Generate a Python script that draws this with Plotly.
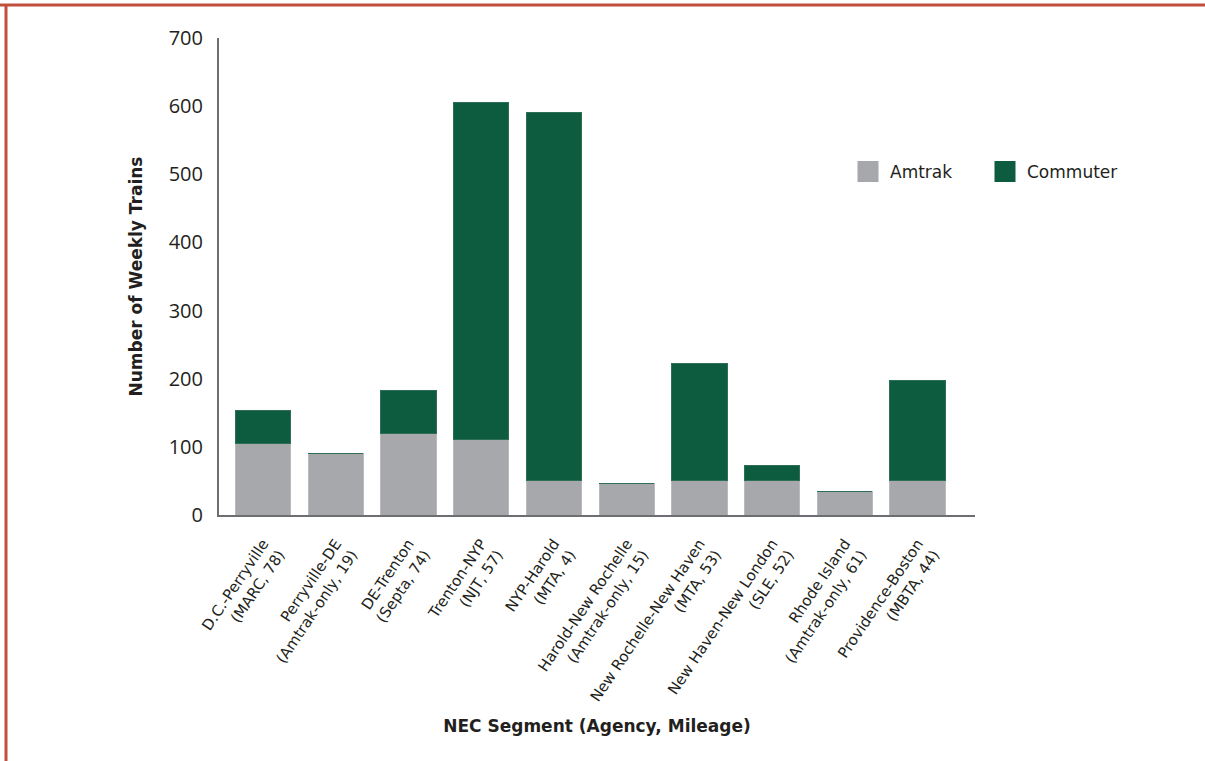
import plotly.graph_objects as go

segments = [
    "D.C.-Perryville<br>(MARC, 78)",
    "Perryville-DE<br>(Amtrak-only, 19)",
    "DE-Trenton<br>(Septa, 74)",
    "Trenton-NYP<br>(NJT, 57)",
    "NYP-Harold<br>(MTA, 4)",
    "Harold-New Rochelle<br>(Amtrak-only, 15)",
    "New Rochelle-New Haven<br>(MTA, 53)",
    "New Haven-New London<br>(SLE, 52)",
    "Rhode Island<br>(Amtrak-only, 61)",
    "Providence-Boston<br>(MBTA, 44)",
]
amtrak = [105, 90, 119, 111, 50, 46, 51, 51, 34, 51]
commuter = [48, 0, 64, 494, 540, 0, 172, 21, 0, 146]

GRAY = "#a7a8ab"
GREEN = "#0e5c40"
W, H = 1205, 761
L, R, T, B = 219, 975, 38, 515
BORDER = "#c0503c"

fig = go.Figure()
fig.add_trace(go.Bar(name="Amtrak", x=segments, y=amtrak, showlegend=False,
                     marker=dict(color=GRAY, line=dict(color="#b9babd", width=1))))
fig.add_trace(go.Bar(name="Commuter", x=segments, y=commuter, showlegend=False,
                     marker=dict(color=GREEN, line=dict(color="#2f6f55", width=1))))
# legend entries with larger square symbols
fig.add_trace(go.Scatter(name="Amtrak", x=[None], y=[None], mode="markers",
                         marker=dict(symbol="square", size=16, color=GRAY, line=dict(color=GRAY, width=5))))
fig.add_trace(go.Scatter(name="Commuter", x=[None], y=[None], mode="markers",
                         marker=dict(symbol="square", size=16, color=GREEN, line=dict(color=GREEN, width=5))))

fig.update_layout(
    barmode="stack",
    bargap=0.24,
    width=W, height=H,
    margin=dict(l=L, r=W - R, t=T, b=H - B, pad=0),
    paper_bgcolor="white", plot_bgcolor="white",
    font=dict(family="DejaVu Sans", color="#231f20"),
    showlegend=True,
    legend=dict(orientation="h", x=(846 - L) / (R - L), y=(B - 172) / (B - T), yanchor="middle", xanchor="left",
                font=dict(family="DejaVu Sans", size=17, color="#231f20"), itemwidth=34,
                traceorder="normal", bgcolor="rgba(0,0,0,0)", entrywidth=88, itemsizing="trace"),
    xaxis=dict(
        range=[-0.605, 9.79], showline=True, linecolor="#6d6e71", linewidth=2, ticks="",
        tickangle=-56, tickfont=dict(family="DejaVu Sans", size=15, color="#231f20"),
        ticklabelstandoff=12,
        title=dict(text="<b>NEC Segment (Agency, Mileage)</b>", font=dict(family="DejaVu Sans", size=17, color="#231f20"), standoff=0),
        showgrid=False,
    ),
    yaxis=dict(
        range=[0, 700], dtick=100, showline=True, linecolor="#6d6e71", linewidth=2, ticks="",
        showgrid=False, zeroline=False,
        tickfont=dict(family="Open Sans", size=20, color="#231f20"), ticklabelstandoff=10,
        title=dict(text="<b>Number of Weekly Trains</b>", font=dict(family="DejaVu Sans", size=17, color="#231f20"), standoff=22),
    ),
    shapes=[
        dict(type="line", xref="paper", yref="paper", x0=(0 - L) / (R - L), x1=(W - L) / (R - L),
             y0=(B - 5) / (B - T), y1=(B - 5) / (B - T), line=dict(color=BORDER, width=3)),
        dict(type="line", xref="paper", yref="paper", x0=(6 - L) / (R - L), x1=(6 - L) / (R - L),
             y0=(B - 5) / (B - T), y1=(B - H) / (B - T), line=dict(color=BORDER, width=3)),
    ],
)
fig.write_html("out.html")
